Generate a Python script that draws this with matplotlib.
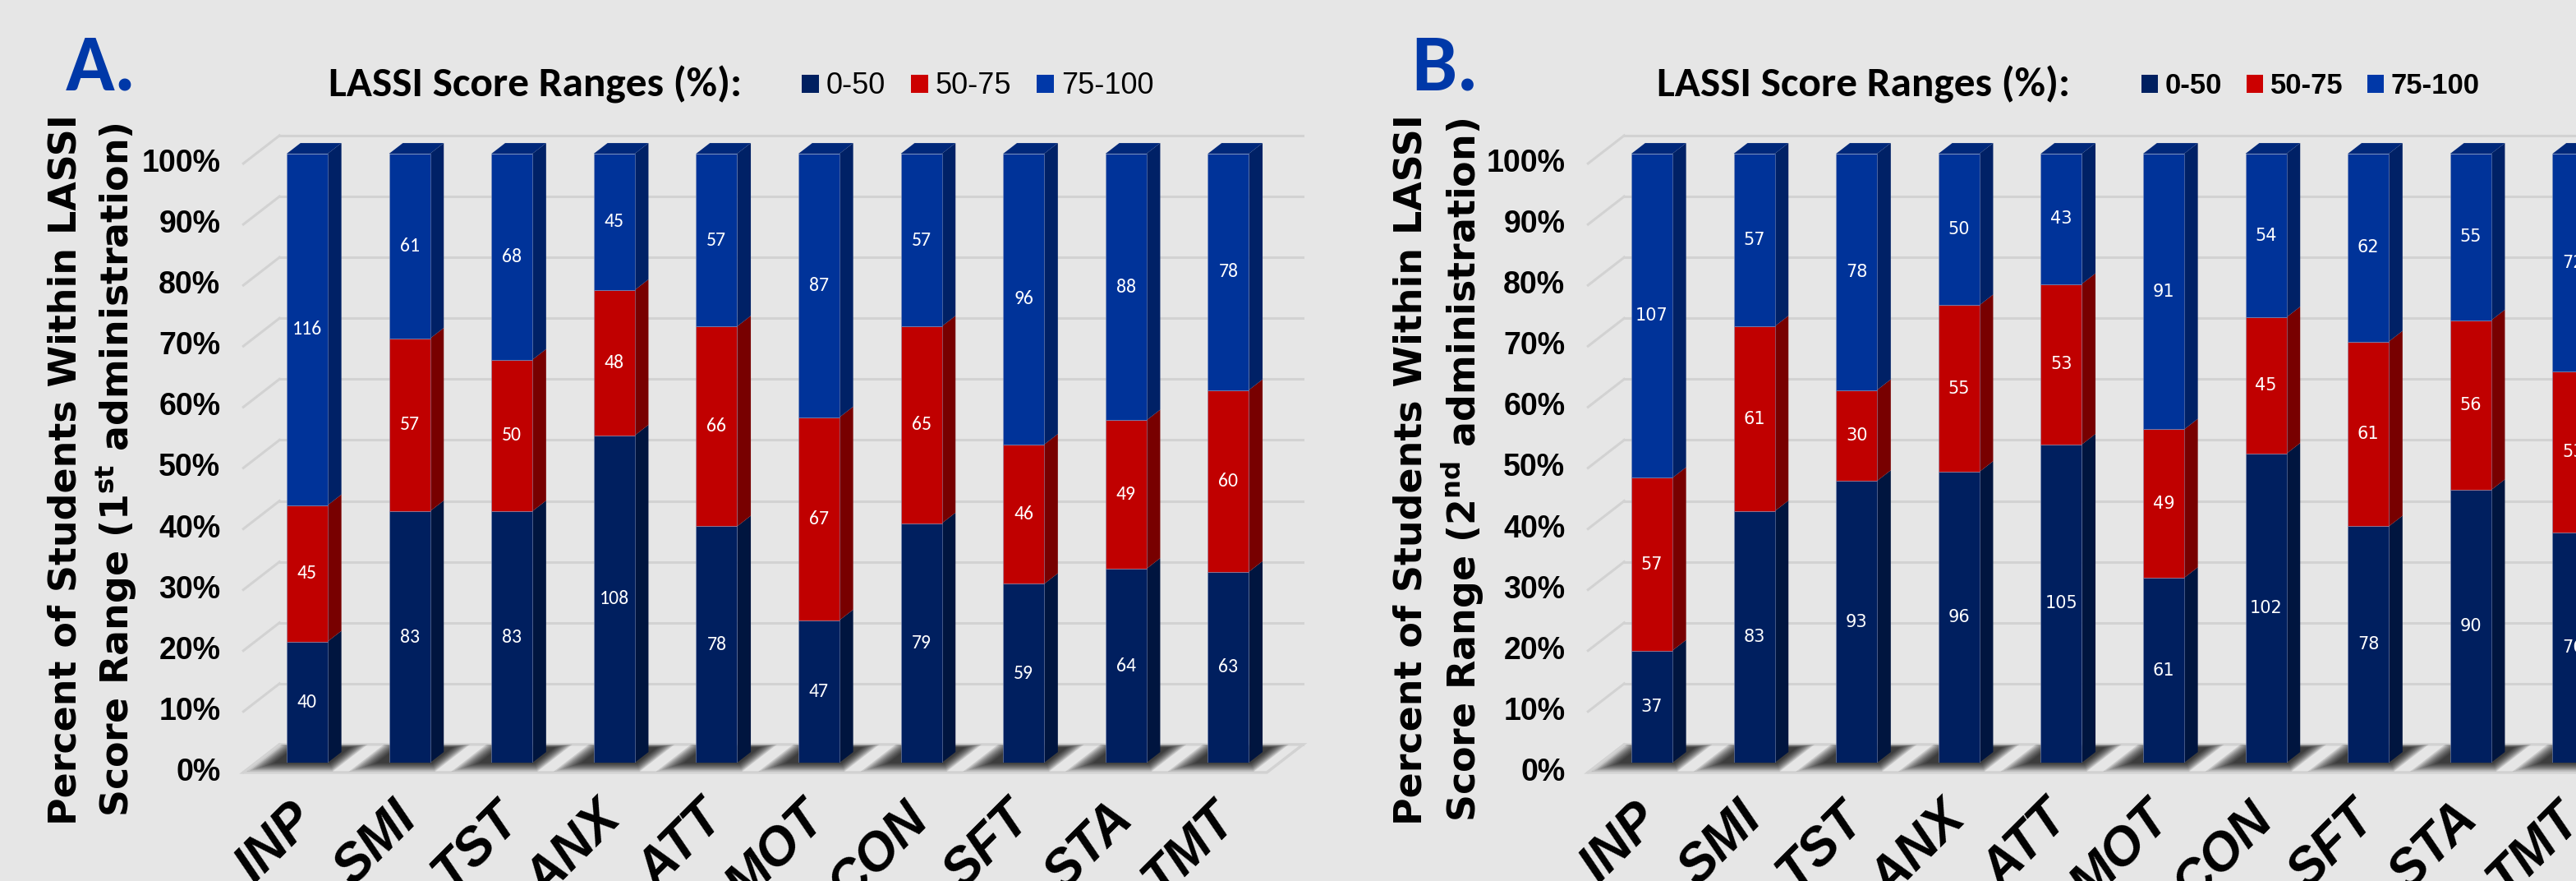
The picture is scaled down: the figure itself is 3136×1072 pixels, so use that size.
import matplotlib
matplotlib.use("Agg")
import matplotlib.pyplot as plt
from matplotlib.patches import Polygon, Patch
from matplotlib.lines import Line2D
from matplotlib.transforms import Affine2D, IdentityTransform

# ---------------- data ----------------
categories = ["INP", "SMI", "TST", "ANX", "ATT", "MOT", "CON", "SFT", "STA", "TMT"]
range_labels = ["0-50", "50-75", "75-100"]

first_low = [40, 83, 83, 108, 78, 47, 79, 59, 64, 63]
first_mid = [45, 57, 50, 48, 66, 67, 65, 46, 49, 60]
first_high = [116, 61, 68, 45, 57, 87, 57, 96, 88, 78]

second_low = [37, 83, 93, 96, 105, 61, 102, 78, 90, 76]
second_mid = [57, 61, 30, 55, 53, 49, 45, 61, 56, 53]
second_high = [107, 57, 78, 50, 43, 91, 54, 62, 55, 72]

yticks = list(range(0, 101, 10))

# ---------------- style ----------------
W, H = 3136, 1072
BG = "#E6E6E6"
GRID = "#D2D2D2"
FRONT = ["#001F5F", "#C00000", "#003399"]
SIDE = ["#00153F", "#780000", "#002166"]
TOP = "#00287A"
LEGEND_COLORS = ["#002060", "#CC0000", "#0038A8"]
LETTER_COLOR = "#0038A8"

TITLE_FONT = ["Carlito", "Lato", "DejaVu Sans"]
ARIAL = ["Liberation Sans", "DejaVu Sans"]
VERDANA = ["DejaVu Sans"]

# oblique depth projection (pixels per full depth of the floor)
DEPTH_X, DEPTH_Y = 44.0, 34.0
D_FRONT, D_BACK = 0.35, 0.73     # depth span of each column
BAR_W = 0.4
STEP_PX = 124.6                   # pixels per category
PLOT_BOTTOM, PLOT_HEIGHT = 144, 741

fig = plt.figure(figsize=(W / 100, H / 100), dpi=100, facecolor=BG)


def disp(ax, x, v, d):
    px, py = ax.transData.transform((x, v))
    return (px + (d - D_FRONT) * DEPTH_X, py + (d - D_FRONT) * DEPTH_Y)


def poly(ax, pts, **kw):
    ax.add_patch(Polygon(pts, closed=True, transform=IdentityTransform(),
                         clip_on=False, **kw))


def line(ax, p, q, **kw):
    ax.add_line(Line2D([p[0], q[0]], [p[1], q[1]], transform=IdentityTransform(),
                       clip_on=False, **kw))


def draw_panel(left_px, low, mid, high, data_font, data_size):
    ax = fig.add_axes([left_px / W, PLOT_BOTTOM / H, 10 * STEP_PX / W, PLOT_HEIGHT / H])
    ax.set_xlim(-0.5, 9.5)
    ax.set_ylim(0, 100)
    ax.axis("off")
    ax.patch.set_visible(False)
    n = len(categories)
    x0, x1 = -0.5, n - 0.5

    # back wall and side wall gridlines
    for v in yticks:
        line(ax, disp(ax, x0, v, 1.0), disp(ax, x1, v, 1.0), color=GRID, lw=2.2, zorder=1)
        line(ax, disp(ax, x0, v, 0.0), disp(ax, x0, v, 1.0), color=GRID, lw=2.2, zorder=1)

    # floor
    poly(ax, [disp(ax, x0, 0, 0), disp(ax, x1, 0, 0), disp(ax, x1, 0, 1), disp(ax, x0, 0, 1)],
         facecolor=BG, edgecolor=GRID, lw=2.5, zorder=1.5)

    # soft shadows on the floor
    layers = 10
    for i in range(n):
        for k in range(layers):
            t = k / (layers - 1)
            xl = i - BAR_W / 2 - (0.28 - 0.16 * t)
            xr = i + BAR_W / 2 + (0.16 - 0.13 * t)
            da = 0.03 + 0.30 * t
            db = 1.0 - 0.10 * t
            poly(ax, [disp(ax, xl, 0, da), disp(ax, xr, 0, da),
                      disp(ax, xr, 0, db), disp(ax, xl, 0, db)],
                 facecolor="black", edgecolor="none", alpha=0.12, zorder=2)

    totals = [a + b + c for a, b, c in zip(low, mid, high)]
    segs = [low, mid, high]
    for i in range(n):
        bottom = 0.0
        for s, vals in enumerate(segs):
            pct = vals[i] / totals[i] * 100
            ax.bar(i, pct, bottom=bottom, width=BAR_W, color=FRONT[s],
                   edgecolor=(0.55, 0.6, 0.75, 0.5), linewidth=0.7, zorder=4)
            xr = i + BAR_W / 2
            poly(ax, [disp(ax, xr, bottom, D_FRONT), disp(ax, xr, bottom, D_BACK),
                      disp(ax, xr, bottom + pct, D_BACK), disp(ax, xr, bottom + pct, D_FRONT)],
                 facecolor=SIDE[s], edgecolor="none", zorder=3)
            ax.text(i, bottom + pct / 2, str(vals[i]), ha="center", va="center",
                    color="white", family=data_font, fontsize=data_size, zorder=6)
            bottom += pct
        xl, xr = i - BAR_W / 2, i + BAR_W / 2
        poly(ax, [disp(ax, xl, bottom, D_FRONT), disp(ax, xr, bottom, D_FRONT),
                  disp(ax, xr, bottom, D_BACK), disp(ax, xl, bottom, D_BACK)],
             facecolor=TOP, edgecolor="none", zorder=3)

    # value axis labels on the front plane
    tick_tr = ax.transData + Affine2D().translate(-(D_FRONT * DEPTH_X) - 28, -(D_FRONT * DEPTH_Y))
    for v in yticks:
        ax.text(x0, v, f"{v}%", transform=tick_tr, ha="right", va="center",
                family=ARIAL, fontweight="bold", fontsize=27, color="black")

    # category labels
    cat_tr = ax.transData + Affine2D().translate(-22, -38)
    for i, c in enumerate(categories):
        ax.text(i, 0, c, transform=cat_tr, rotation=45, rotation_mode="anchor",
                ha="right", va="top", family=ARIAL, fontweight="bold",
                fontstyle="italic", fontsize=46, color="black")
    return ax


def panel_text(shift, letter, title_x, ordinal, legend_x, legend_bold):
    fig.text((80 + shift) / W, 1 - 110 / H, letter, ha="left", va="baseline",
             family=TITLE_FONT, fontweight="bold", fontsize=71, color=LETTER_COLOR)
    fig.text(title_x / W, 1 - 118 / H, "LASSI Score Ranges (%):", ha="left", va="baseline",
             family=TITLE_FONT, fontweight="bold", fontsize=37, color="black")
    fig.text((80 + shift) / W, 500 / H, "Percent of Students Within LASSI", rotation=90,
             ha="center", va="center", family=VERDANA, fontweight="bold",
             fontsize=33, color="black")
    fig.text((142 + shift) / W, 500 / H,
             "Score Range (" + ordinal[0] + r"$^{\mathbf{" + ordinal[1:] + "}}$ administration)",
             rotation=90, ha="center", va="center", family=VERDANA, fontweight="bold",
             fontsize=33, color="black")
    handles = [Patch(facecolor=c, edgecolor="none") for c in LEGEND_COLORS]
    prop = {"family": ARIAL, "size": 25 if legend_bold else 26,
            "weight": "bold" if legend_bold else "normal"}
    fig.legend(handles, range_labels, loc="center left",
               bbox_to_anchor=(legend_x / W, 1 - 105 / H), ncol=3, frameon=False,
               prop=prop, handlelength=0.58, handleheight=0.58, handletextpad=0.25,
               columnspacing=0.85, borderpad=0, borderaxespad=0)


plt.rcParams["mathtext.fontset"] = "dejavusans"

draw_panel(374 - STEP_PX / 2, first_low, first_mid, first_high, ["Carlito", "Lato"], 17)
draw_panel(2011 - STEP_PX / 2, second_low, second_mid, second_high, VERDANA, 15)

panel_text(0, "A.", 400, "1st", 976, False)
panel_text(1638, "B.", 2017, "2nd", 2607, True)

fig.savefig("out.png", dpi=100, facecolor=BG)
